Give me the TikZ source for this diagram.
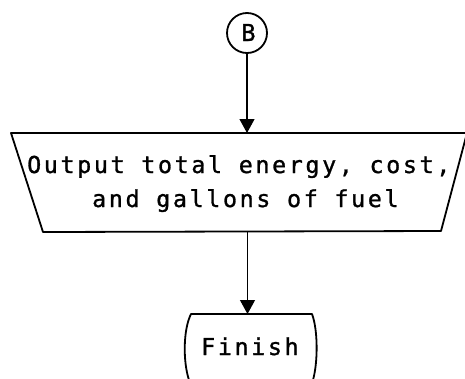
\documentclass[tikz,border=0pt]{standalone}
\usepackage{fontspec}
\usetikzlibrary{arrows.meta}
\newfontfamily\tw[LetterSpace=11.4,FakeBold=1.2]{DejaVu Sans Mono}
\begin{document}
\begin{tikzpicture}[x=1pt,y=-1pt,
  shapeline/.style={line width=1.8pt, line join=round},
  conn/.style={line width=1.1pt, -{Triangle[width=15pt,length=14pt]}},
  txt/.style={font=\tw\fontsize{23.3}{34}\selectfont, inner sep=0pt, anchor=base west}]
\useasboundingbox (0,0) rectangle (465,378);
\clip (0,0) rectangle (465,378);
% connector B
\node[circle, draw, shapeline, minimum size=40pt, inner sep=0pt] (B) at (247,33) {};
\node[txt, anchor=base] (Blab) at (248.5,41) {B};
% trapezoid
\coordinate (tl) at (11,133);
\coordinate (tr) at (467,133);
\coordinate (br) at (441,231);
\coordinate (bl) at (43,232);
\coordinate (trapTop) at (247,133);
\coordinate (trapBot) at (247.5,231.5);
\draw[shapeline] (tl) -- (tr) -- (br) -- (bl) -- cycle;
\node[txt] (l1) at (27,173) {Output total energy, cost,};
\node[txt] (l2) at (92,207) {and gallons of fuel};
% finish terminal
\coordinate (finTop) at (247.5,314);
\draw[shapeline] (191,314) -- (312,314)
  .. controls (318,330) and (318,362) .. (313,380) -- (189,380)
  .. controls (183,362) and (183,330) .. (191,314) -- cycle;
\node[txt] (fin) at (201,355) {Finish};
% connectors
\draw[conn] (B.south) -- (trapTop);
\draw[conn] (trapBot) -- (finTop);
\end{tikzpicture}
\end{document}
